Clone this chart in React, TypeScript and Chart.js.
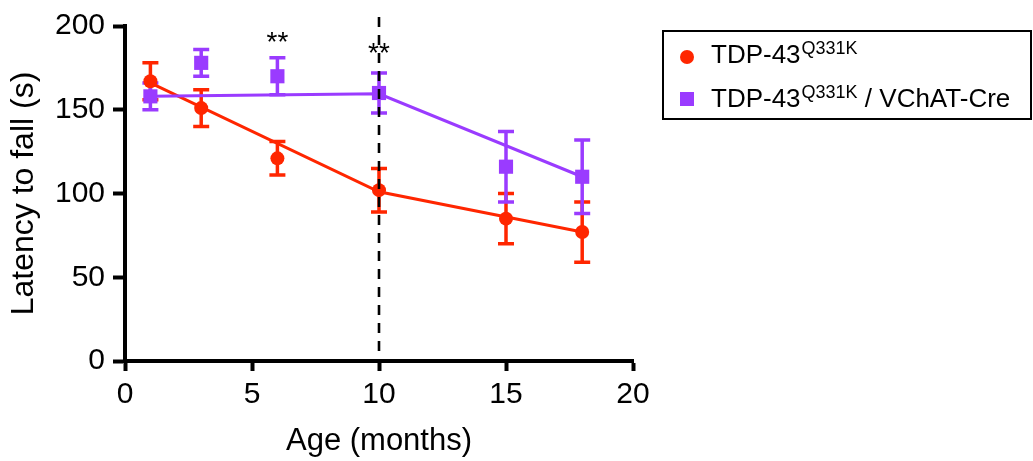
import React, { useEffect, useRef } from 'react';
import { Chart, registerables } from 'chart.js';

Chart.register(...registerables);

// ---- data ----
const ages = [1, 3, 6, 10, 15, 18];
const tdpMean = [167, 151, 121, 102, 85, 77];
const tdpSem = [11, 11, 10, 13, 15, 18];
const vchatMean = [158, 178, 170, 160, 116, 110];
const vchatSem = [8, 8, 11, 12, 21, 22];
const fitAges = [1, 10, 18];
const tdpFit = [166, 101, 77];
const vchatFit = [158, 159.5, 110];
const sigAges = [6, 10];
const sigY = [185, 178.5];
const sigLabels = ['**', '**'];
const markerAge = 10;
const seriesNames = ['TDP-43', 'TDP-43'];
const seriesSup = ['Q331K', 'Q331K'];
const seriesSuffix = ['', ' / VChAT-Cre'];

const RED = '#FF2600';
const PURPLE = '#9A3BFF';
const FONT = '"Liberation Sans", Arial, Helvetica, sans-serif';

export default function App() {
  const ref = useRef<HTMLCanvasElement | null>(null);

  useEffect(() => {
    const canvas = ref.current;
    if (!canvas) return;

    const errorMap: Record<number, number[]> = { 0: tdpSem, 1: vchatSem };

    const errorBars = {
      id: 'errorBars',
      beforeDatasetsDraw(chart: any) {
        const ctx = chart.ctx;
        const xs = chart.scales.x;
        const ys = chart.scales.y;
        ctx.save();
        [0, 1].forEach((di) => {
          const ds = chart.data.datasets[di];
          const errs = errorMap[di];
          ctx.strokeStyle = ds.pointBackgroundColor;
          ctx.lineWidth = 3.5;
          ctx.lineCap = 'butt';
          ds.data.forEach((p: any, i: number) => {
            const x = xs.getPixelForValue(p.x);
            const yt = ys.getPixelForValue(p.y + errs[i]);
            const yb = ys.getPixelForValue(p.y - errs[i]);
            ctx.beginPath();
            ctx.moveTo(x, yt);
            ctx.lineTo(x, yb);
            ctx.moveTo(x - 8, yt);
            ctx.lineTo(x + 8, yt);
            ctx.moveTo(x - 8, yb);
            ctx.lineTo(x + 8, yb);
            ctx.stroke();
          });
        });
        ctx.restore();
      },
    };

    const overlays = {
      id: 'overlays',
      afterDatasetsDraw(chart: any) {
        const ctx = chart.ctx;
        const xs = chart.scales.x;
        const ys = chart.scales.y;
        ctx.save();
        ctx.fillStyle = '#000';
        ctx.font = `28px ${FONT}`;
        ctx.textAlign = 'center';
        ctx.textBaseline = 'alphabetic';
        sigAges.forEach((a, i) => {
          ctx.fillText(sigLabels[i], xs.getPixelForValue(a), ys.getPixelForValue(sigY[i]));
        });
        const x = xs.getPixelForValue(markerAge);
        ctx.strokeStyle = '#000';
        ctx.lineWidth = 2.6;
        ctx.setLineDash([10, 8]);
        ctx.beginPath();
        ctx.moveTo(x, chart.chartArea.top - 9);
        ctx.lineTo(x, chart.chartArea.bottom);
        ctx.stroke();
        ctx.restore();
      },
    };

    const legend = {
      id: 'customLegend',
      afterDraw(chart: any) {
        const ctx = chart.ctx;
        ctx.save();
        ctx.strokeStyle = '#000';
        ctx.lineWidth = 2;
        ctx.strokeRect(663, 31, 368, 88);
        const rows = [63, 107];
        rows.forEach((base, i) => {
          const color = i === 0 ? RED : PURPLE;
          ctx.fillStyle = color;
          if (i === 0) {
            ctx.beginPath();
            ctx.arc(687, base - 6, 7, 0, Math.PI * 2);
            ctx.fill();
          } else {
            ctx.fillRect(680, base - 15, 14, 14);
          }
          ctx.fillStyle = '#000';
          ctx.textBaseline = 'alphabetic';
          ctx.textAlign = 'left';
          let tx = 711;
          ctx.font = `26px ${FONT}`;
          ctx.fillText(seriesNames[i], tx, base);
          tx += ctx.measureText(seriesNames[i]).width + 1;
          ctx.font = `18px ${FONT}`;
          ctx.fillText(seriesSup[i], tx, base - 9);
          tx += ctx.measureText(seriesSup[i]).width;
          if (seriesSuffix[i]) {
            ctx.font = `26px ${FONT}`;
            ctx.fillText(seriesSuffix[i], tx, base);
          }
        });
        ctx.restore();
      },
    };

    const tickFont = { family: FONT, size: 30 };
    const titleFont = { family: FONT, size: 31 };

    const chart = new Chart(canvas, {
      type: 'line',
      data: {
        datasets: [
          {
            label: 'TDP-43 Q331K',
            data: ages.map((a, i) => ({ x: a, y: tdpMean[i] })),
            showLine: false,
            pointStyle: 'circle',
            pointRadius: 7,
            pointBorderWidth: 0,
            pointBackgroundColor: RED,
            borderColor: RED,
            order: 1,
          },
          {
            label: 'TDP-43 Q331K / VChAT-Cre',
            data: ages.map((a, i) => ({ x: a, y: vchatMean[i] })),
            showLine: false,
            pointStyle: 'rect',
            pointRadius: 10,
            pointBorderWidth: 0,
            pointBackgroundColor: PURPLE,
            borderColor: PURPLE,
            order: 0,
          },
          {
            label: 'fit1',
            data: fitAges.map((a, i) => ({ x: a, y: tdpFit[i] })),
            borderColor: RED,
            borderWidth: 3,
            pointRadius: 0,
            tension: 0,
            order: 3,
          },
          {
            label: 'fit2',
            data: fitAges.map((a, i) => ({ x: a, y: vchatFit[i] })),
            borderColor: PURPLE,
            borderWidth: 3,
            pointRadius: 0,
            tension: 0,
            order: 2,
          },
        ],
      },
      options: {
        animation: false,
        responsive: false,
        devicePixelRatio: 1,
        layout: { padding: { left: 0, right: 400, top: 21, bottom: 0 } },
        plugins: { legend: { display: false }, tooltip: { enabled: false } },
        scales: {
          x: {
            type: 'linear',
            min: 0,
            max: 20,
            afterFit: (s: any) => { s.height = 100; },
            ticks: { stepSize: 5, color: '#000', font: tickFont, padding: 6, maxRotation: 0 },
            grid: { drawOnChartArea: false, drawTicks: true, tickLength: 10, tickWidth: 4, tickColor: '#000', color: '#000' },
            border: { display: true, width: 4, color: '#000' },
            title: { display: true, text: 'Age (months)', color: '#000', font: titleFont, padding: { top: 0, bottom: 1 } },
          },
          y: {
            type: 'linear',
            min: 0,
            max: 200,
            afterFit: (s: any) => { s.width = 125; },
            ticks: { stepSize: 50, color: '#000', font: tickFont, padding: 8 },
            grid: { drawOnChartArea: false, drawTicks: true, tickLength: 12, tickWidth: 4, tickColor: '#000', color: '#000' },
            border: { display: true, width: 4, color: '#000' },
            title: { display: true, text: 'Latency to fall (s)', color: '#000', font: { family: FONT, size: 32 }, padding: { top: 5, bottom: 0 } },
          },
        },
      },
      plugins: [errorBars, overlays, legend],
    } as any);

    return () => chart.destroy();
  }, []);

  return (
    <div style={{ position: 'fixed', left: 0, top: 0, width: 1033, height: 461, background: '#fff' }}>
      <canvas ref={ref} width={1033} height={461} />
    </div>
  );
}
